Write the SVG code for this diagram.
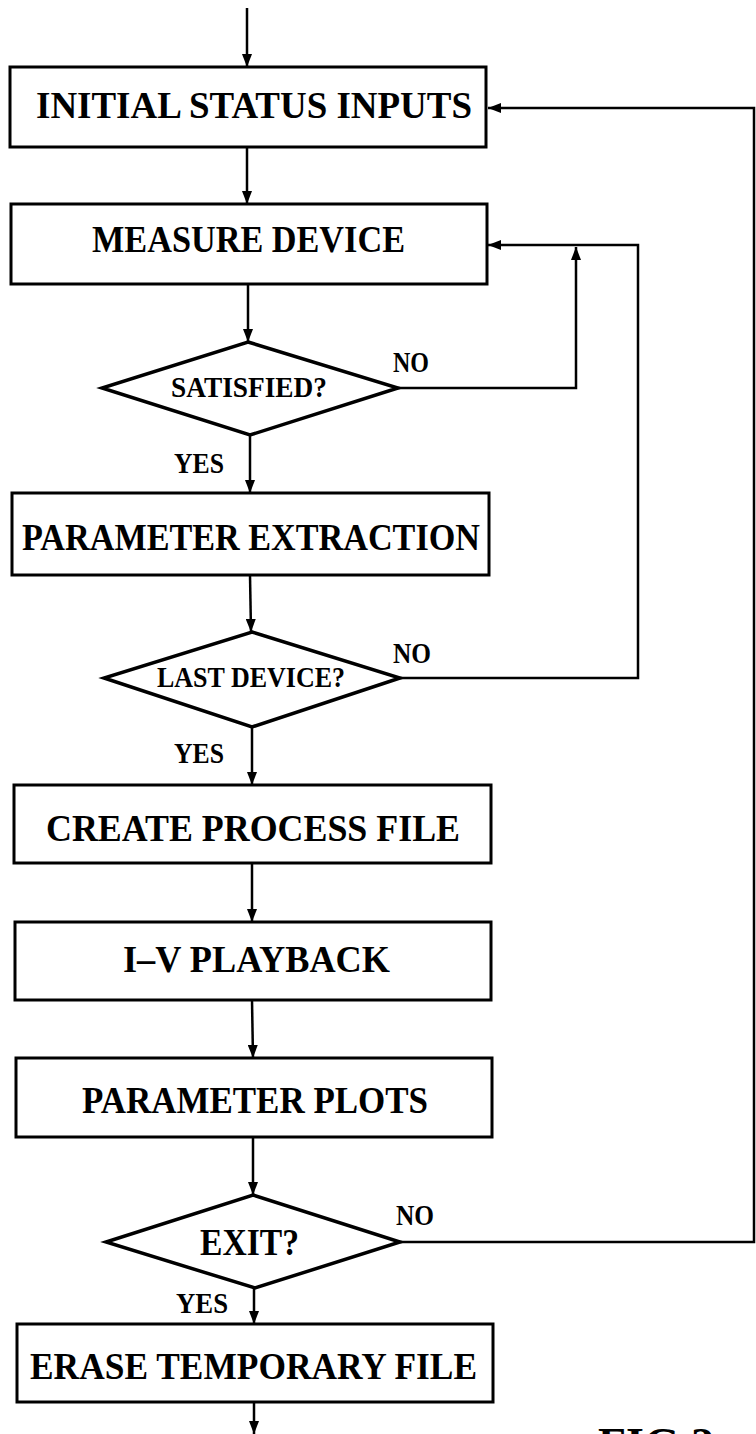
<svg xmlns="http://www.w3.org/2000/svg" width="756" height="1434" viewBox="0 0 756 1434">
<style>
.box{fill:none;stroke:#000;stroke-width:3}
.dia{fill:none;stroke:#000;stroke-width:3.5;stroke-linejoin:miter}
.ln{fill:none;stroke:#000;stroke-width:2.5}
.t{font-family:"Liberation Serif","Times New Roman",serif;font-weight:bold;fill:#000}
.big{font-size:38px}
.mid{font-size:29px}
.lab{font-size:29px}
</style>
<defs>
<marker id="ah" markerUnits="userSpaceOnUse" markerWidth="14" markerHeight="10" refX="13" refY="5" orient="auto">
<path d="M0,0 L13,5 L0,10 z" fill="#000"/>
</marker>
</defs>
<rect width="756" height="1434" fill="#fff"/>
<g id="connectors">
<line class="ln" x1="247" y1="8" x2="247" y2="67" marker-end="url(#ah)"/>
<line class="ln" x1="247" y1="147" x2="247" y2="204" marker-end="url(#ah)"/>
<line class="ln" x1="248" y1="284" x2="248" y2="342" marker-end="url(#ah)"/>
<polyline class="ln" points="398,388 576,388 576,247" marker-end="url(#ah)"/>
<polyline class="ln" points="400,678 638,678 638,245 488,245" marker-end="url(#ah)"/>
<line class="ln" x1="250" y1="435" x2="250" y2="493" marker-end="url(#ah)"/>
<line class="ln" x1="250" y1="575" x2="251" y2="632" marker-end="url(#ah)"/>
<line class="ln" x1="252" y1="727" x2="252" y2="785" marker-end="url(#ah)"/>
<line class="ln" x1="252" y1="863" x2="252" y2="922" marker-end="url(#ah)"/>
<line class="ln" x1="252" y1="1000" x2="253" y2="1058" marker-end="url(#ah)"/>
<line class="ln" x1="253" y1="1137" x2="253" y2="1195" marker-end="url(#ah)"/>
<polyline class="ln" points="400,1242 754,1242 754,108 488,108" marker-end="url(#ah)"/>
<line class="ln" x1="254" y1="1288" x2="254" y2="1324" marker-end="url(#ah)"/>
<line class="ln" x1="254" y1="1402" x2="254" y2="1434" marker-end="url(#ah)"/>
<text class="t lab" x="393" y="372" textLength="36" lengthAdjust="spacingAndGlyphs">NO</text>
<text class="t lab" x="174" y="473" textLength="50" lengthAdjust="spacingAndGlyphs">YES</text>
<text class="t lab" x="393" y="663" textLength="38" lengthAdjust="spacingAndGlyphs">NO</text>
<text class="t lab" x="174" y="763" textLength="50" lengthAdjust="spacingAndGlyphs">YES</text>
<text class="t lab" x="396" y="1225" textLength="38" lengthAdjust="spacingAndGlyphs">NO</text>
<text class="t lab" x="176" y="1313" textLength="52" lengthAdjust="spacingAndGlyphs">YES</text>
</g>
<g id="n1">
<rect class="box" x="10" y="67" width="476" height="80"/>
<text class="t big" x="36" y="118" textLength="436" lengthAdjust="spacingAndGlyphs">INITIAL STATUS INPUTS</text>
</g>
<g id="n2">
<rect class="box" x="11" y="204" width="476" height="80"/>
<text class="t big" x="92" y="252" textLength="313" lengthAdjust="spacingAndGlyphs">MEASURE DEVICE</text>
</g>
<g id="d1">
<polygon class="dia" points="248,342 398,388 250,435 102,388"/>
<text class="t mid" x="171" y="397" textLength="156" lengthAdjust="spacingAndGlyphs">SATISFIED?</text>
</g>
<g id="n3">
<rect class="box" x="12" y="493" width="477" height="82"/>
<text class="t big" x="22" y="550" textLength="458" lengthAdjust="spacingAndGlyphs">PARAMETER EXTRACTION</text>
</g>
<g id="d2">
<polygon class="dia" points="252,632 400,678 252,727 104,678"/>
<text class="t mid" x="157" y="687" textLength="188" lengthAdjust="spacingAndGlyphs">LAST DEVICE?</text>
</g>
<g id="n4">
<rect class="box" x="14" y="785" width="477" height="78"/>
<text class="t big" x="46" y="841" textLength="414" lengthAdjust="spacingAndGlyphs">CREATE PROCESS FILE</text>
</g>
<g id="n5">
<rect class="box" x="15" y="922" width="476" height="78"/>
<text class="t big" x="123" y="972" textLength="267" lengthAdjust="spacingAndGlyphs">I–V PLAYBACK</text>
</g>
<g id="n6">
<rect class="box" x="16" y="1058" width="476" height="79"/>
<text class="t big" x="82" y="1113" textLength="346" lengthAdjust="spacingAndGlyphs">PARAMETER PLOTS</text>
</g>
<g id="d3">
<polygon class="dia" points="253,1195 400,1242 255,1288 106,1242"/>
<text class="t big" x="200" y="1255" textLength="99" lengthAdjust="spacingAndGlyphs">EXIT?</text>
</g>
<g id="n7">
<rect class="box" x="17" y="1324" width="476" height="78"/>
<text class="t big" x="30" y="1379" textLength="447" lengthAdjust="spacingAndGlyphs">ERASE TEMPORARY FILE</text>
</g>
<g id="fig">
<text class="t" font-size="46" x="598" y="1460" textLength="116" lengthAdjust="spacingAndGlyphs">FIG.2</text>
</g>
</svg>
